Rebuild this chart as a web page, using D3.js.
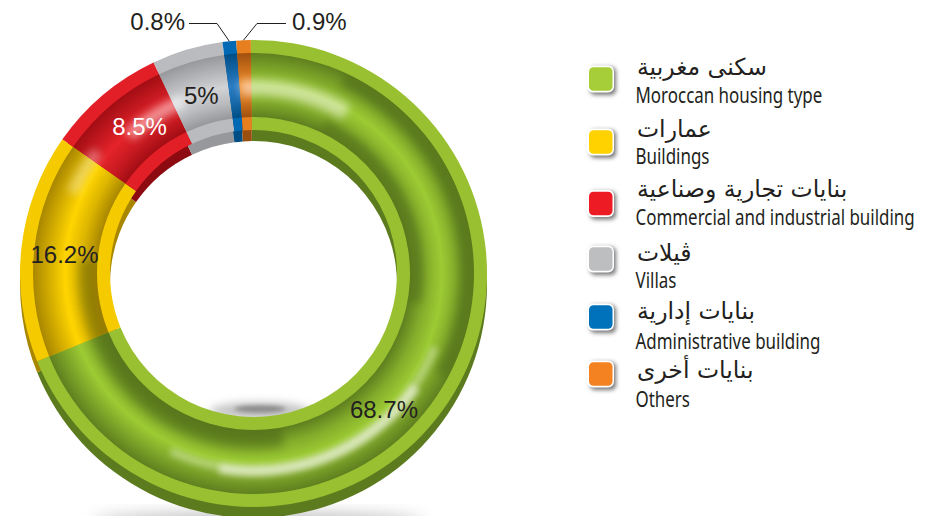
<!DOCTYPE html>
<html>
<head>
<meta charset="utf-8">
<script src="https://cdn.jsdelivr.net/npm/d3@7"></script>
<style>
  html, body { margin: 0; padding: 0; background: #fff; }
  svg { display: block; }
</style>
</head>
<body>
<div id="chart"></div>
<script>
// values
var categoriesEn = ["Moroccan housing type", "Buildings", "Commercial and industrial building", "Villas", "Administrative building", "Others"];
var categoriesAr = ["سكنى مغربية", "عمارات", "بنايات تجارية وصناعية", "ڤيلات", "بنايات إدارية", "بنايات أخرى"];
var valueLabels = ["68.7%", "16.2%", "8.5%", "5%", "0.8%", "0.9%"];
// slice sizes as measured on the drawing: its arcs do not quite follow the printed percentages
var sliceShares = [69.07, 15.88, 8.22, 4.92, 0.94, 1.0];

// colours per slice: flat rim, tube centre, tube edge, side wall, legend swatch
var rimColors = ["#99c031", "#f5cb00", "#e21e26", "#b9bbbe", "#0069b4", "#e87f1e"];
var midColors = ["#9ccb33", "#ffd500", "#e5232a", "#d2d3d5", "#2a7cc4", "#f28c28"];
var edgeColors = ["#5f7f1f", "#a88600", "#a20d14", "#96989b", "#004e86", "#a0500e"];
var wallColors = ["#5c7b1e", "#a88600", "#8c0a10", "#96989b", "#004e86", "#9a4e10"];
var swatchColors = ["#a6ce39", "#ffd200", "#ed1c24", "#bcbec0", "#0072bc", "#f58220"];

var W = 932, H = 516;
var cx = 253.5, cy = 273.5;
var rOuter = 233.5, rInner = 143.5, rim = 13;
var depth = 11;
var start = -0.0115;

var svg = d3.select("#chart").append("svg").attr("width", W).attr("height", H);
var defs = svg.append("defs");

function blur(id, dev) {
  defs.append("filter").attr("id", id)
    .attr("x", "-50%").attr("y", "-50%").attr("width", "200%").attr("height", "200%")
    .append("feGaussianBlur").attr("stdDeviation", dev);
}
blur("b2", 2);
blur("b3", 3);
blur("b5", 4.5);
blur("b8", 8);

var pie = d3.pie().sort(null).startAngle(start).endAngle(start + 2 * Math.PI);
var slices = pie(sliceShares);

var ringArc = d3.arc().innerRadius(rInner).outerRadius(rOuter);
var tubeArc = d3.arc().innerRadius(rInner + rim).outerRadius(rOuter - rim);

// one radial gradient per slice for the rounded tube
sliceShares.forEach(function(v, i) {
  var g = defs.append("radialGradient").attr("id", "tube" + i)
    .attr("gradientUnits", "userSpaceOnUse")
    .attr("cx", 0).attr("cy", 0).attr("r", rOuter - rim);
  var inner = (rInner + rim) / (rOuter - rim);
  var span = 1 - inner;
  g.append("stop").attr("offset", inner).attr("stop-color", edgeColors[i]);
  g.append("stop").attr("offset", inner + span * 0.25).attr("stop-color", d3.interpolateRgb(edgeColors[i], midColors[i])(0.6));
  g.append("stop").attr("offset", inner + span * 0.5).attr("stop-color", midColors[i]);
  g.append("stop").attr("offset", inner + span * 0.7).attr("stop-color", d3.interpolateRgb(edgeColors[i], midColors[i])(0.6));
  g.append("stop").attr("offset", 1).attr("stop-color", edgeColors[i]);
});

defs.append("clipPath").attr("id", "tubeClip").append("path")
  .attr("d", d3.arc().innerRadius(rInner + rim).outerRadius(rOuter - rim).startAngle(0).endAngle(2 * Math.PI)());

// soft shadows under the ring
svg.append("ellipse").attr("cx", 258).attr("cy", 522).attr("rx", 165).attr("ry", 9)
  .attr("fill", "#bbb").attr("filter", "url(#b8)");
svg.append("ellipse").attr("cx", 260).attr("cy", 411).attr("rx", 50).attr("ry", 9)
  .attr("fill", "#c4c4c4").attr("filter", "url(#b5)");
svg.append("ellipse").attr("cx", 260).attr("cy", 409).attr("rx", 26).attr("ry", 3.5)
  .attr("fill", "#8a8a8a").attr("filter", "url(#b2)");

var ring = svg.append("g").attr("transform", "translate(" + cx + "," + cy + ")");

// side wall: same ring pushed down
ring.append("g").attr("transform", "translate(0," + depth + ")")
  .selectAll("path").data(slices).enter().append("path")
  .attr("d", ringArc)
  .attr("fill", function(d, i) { return wallColors[i]; });

ring.append("g").selectAll("path").data(slices).enter().append("path")
  .attr("d", ringArc)
  .attr("fill", function(d, i) { return rimColors[i]; });

ring.append("g").selectAll("path").data(slices).enter().append("path")
  .attr("d", tubeArc)
  .attr("fill", function(d, i) { return "url(#tube" + i + ")"; });

// shading and glossy streaks on the tube (angles in degrees clockwise from the top)
var shade = [
  { a0: 25, a1: 118, r: 212, w: 12, o: 0.28, c: "#2c3d08", f: "b5" },
  { a0: 25, a1: 100, r: 165, w: 12, o: 0.25, c: "#2c3d08", f: "b5" },
  { a0: 170, a1: 275, r: 167, w: 18, o: 0.3, c: "#2c3d08", f: "b5" },
  { a0: -4, a1: 30, r: 186, w: 16, o: 0.5, c: "#fff", f: "b5" },
  { a0: -42, a1: -22, r: 186, w: 13, o: 0.5, c: "#fff", f: "b5" },
  { a0: -66, a1: -52, r: 198, w: 12, o: 0.35, c: "#fff", f: "b5" },
  { a0: 112, a1: 205, r: 196, w: 8, o: 0.35, c: "#fff", f: "b3" },
  { a0: 125, a1: 190, r: 198, w: 10, o: 0.55, c: "#fff", f: "b3" }
];
var shadeArc = d3.arc();
ring.append("g").attr("clip-path", "url(#tubeClip)")
  .selectAll("path").data(shade).enter().append("path")
  .attr("d", function(g) {
    return shadeArc({
      innerRadius: g.r - g.w / 2, outerRadius: g.r + g.w / 2,
      startAngle: g.a0 * Math.PI / 180, endAngle: g.a1 * Math.PI / 180
    });
  })
  .attr("fill", function(g) { return g.c; })
  .attr("opacity", function(g) { return g.o; })
  .attr("filter", function(g) { return "url(#" + g.f + ")"; });

// value labels, slid along each slice a little
var labelFont = "'Liberation Sans', Arial, sans-serif";
var labelSlide = [0.55, 0.49, 0.58, 0.51];
var labelRadius = [188, 190, 186, 186];
ring.append("g").selectAll("text").data(slices.slice(0, 4)).enter().append("text")
  .attr("transform", function(d, i) {
    var a = d.startAngle + (d.endAngle - d.startAngle) * labelSlide[i];
    return "translate(" + Math.sin(a) * labelRadius[i] + "," + (-Math.cos(a) * labelRadius[i]) + ")";
  })
  .attr("text-anchor", "middle").attr("dy", "0.36em")
  .attr("font-family", labelFont).attr("font-size", 24)
  .attr("fill", function(d, i) { return i == 2 ? "#fff" : "#231f20"; })
  .text(function(d, i) { return valueLabels[i]; });

// leader lines for the two thin slices
var leaderY = 23.5;
var leaders = [
  { i: 4, elbow: 217, end: 189, textX: 185, anchor: "end" },
  { i: 5, elbow: 257, end: 286, textX: 292, anchor: "start" }
];
var line = d3.line();
leaders.forEach(function(l) {
  var d = slices[l.i];
  var mid = (d.startAngle + d.endAngle) / 2;
  var px = cx + Math.sin(mid) * rOuter, py = cy - Math.cos(mid) * rOuter;
  svg.append("path")
    .attr("d", line([[l.end, leaderY], [l.elbow, leaderY], [px, py]]))
    .attr("fill", "none").attr("stroke", "#231f20").attr("stroke-width", 1);
  svg.append("text").attr("x", l.textX).attr("y", 30)
    .attr("text-anchor", l.anchor)
    .attr("font-family", labelFont).attr("font-size", 24).attr("fill", "#231f20")
    .text(valueLabels[l.i]);
});

// legend
var swatchY = [79, 142, 203.5, 259, 317, 374];
var enBase = [103, 163.5, 225, 287.5, 349, 407];
var arBase = [75, 136.5, 197, 260.5, 319, 378];
var legend = svg.append("g");
var rows = legend.selectAll("g").data(categoriesEn).enter().append("g");

rows.append("rect").attr("x", 590).attr("width", 26).attr("height", 28).attr("rx", 5)
  .attr("y", function(d, i) { return swatchY[i] - 12; })
  .attr("fill", "#777").attr("filter", "url(#b2)");
rows.append("rect").attr("x", 587).attr("width", 27).attr("height", 27).attr("rx", 6)
  .attr("y", function(d, i) { return swatchY[i] - 13.5; })
  .attr("fill", "#fff");
rows.append("rect").attr("x", 589).attr("width", 23.5).attr("height", 23.5).attr("rx", 4.5)
  .attr("y", function(d, i) { return swatchY[i] - 11.75; })
  .attr("fill", function(d, i) { return swatchColors[i]; });

rows.append("text")
  .attr("transform", function(d, i) { return "translate(635.5," + enBase[i] + ") scale(0.77,1)"; })
  .attr("font-family", "'Noto Sans', sans-serif").attr("font-size", 22).attr("fill", "#231f20")
  .text(function(d) { return d; });

rows.append("text")
  .attr("transform", function(d, i) { return "translate(637," + arBase[i] + ")"; })
  .attr("direction", "rtl").attr("text-anchor", "end")
  .attr("font-family", "'DejaVu Sans', sans-serif").attr("font-size", 23.5).attr("fill", "#231f20")
  .text(function(d, i) { return categoriesAr[i]; });
</script>
</body>
</html>
